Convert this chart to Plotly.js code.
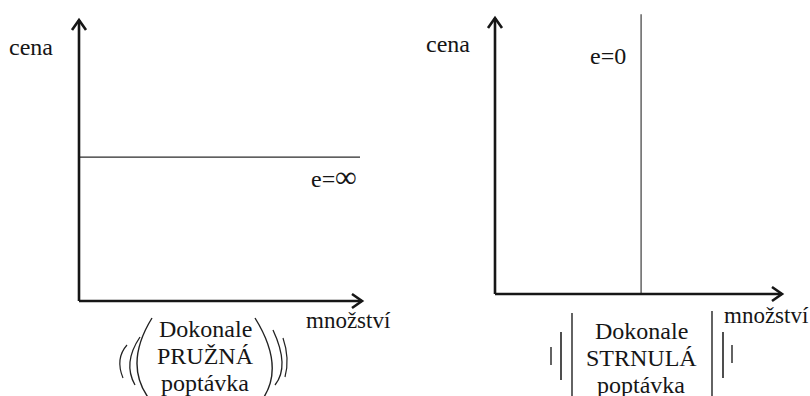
<!DOCTYPE html>
<html>
<head>
<meta charset="utf-8">
<script src="https://cdn.plot.ly/plotly-3.0.1.min.js"></script>
<style>html,body{margin:0;padding:0;background:#fff}</style>
</head>
<body>
<div id="chart" style="width:810px;height:396px"></div>
<script>
// ---- data ----
const axisLabelsY = ['cena', 'cena'];
const axisLabelsX = ['množství', 'množství'];
const elasticityLabels = ['e=∞', 'e=0'];
const captionElastic = ['Dokonale', 'PRUŽNÁ', 'poptávka'];
const captionInelastic = ['Dokonale', 'STRNULÁ', 'poptávka'];
// perfectly elastic demand: horizontal line
const qElastic = [0, 9.93];
const pElastic = [5.12, 5.12];
// perfectly inelastic demand: vertical line
const qInelastic = [5.09, 5.09];
const pInelastic = [0, 10.14];
const axisMax = 10;

// ---- layout helpers ----
const W = 810, H = 396;
function fit(p0, p10, lo, hi, isY) {
  const s = (p10 - p0) / 10;
  const r = [(lo - p0) / s, (hi - p0) / s];
  const d = isY ? [1 - lo / H, 1 - hi / H] : [lo / W, hi / W];
  return {domain: d, range: r, visible: false, fixedrange: true};
}
const px = (x, y) => ({x: x / W, y: 1 - y / H});
const SERIF = 'Liberation Serif';
const INK = '#161616';

const traces = [
  {x: qElastic, y: pElastic, xaxis: 'x', yaxis: 'y', mode: 'lines',
   line: {color: '#2a2a2a', width: 1.3}, hoverinfo: 'skip', showlegend: false},
  {x: qInelastic, y: pInelastic, xaxis: 'x2', yaxis: 'y2', mode: 'lines',
   line: {color: '#2a2a2a', width: 1.1}, hoverinfo: 'skip', showlegend: false}
];

const shapes = [];
[['x', 'y'], ['x2', 'y2']].forEach(([xr, yr]) => {
  shapes.push({type: 'line', xref: xr, yref: yr, x0: 0, y0: 0, x1: axisMax, y1: 0,
               line: {color: INK, width: 2.6}});
  shapes.push({type: 'line', xref: xr, yref: yr, x0: 0, y0: 0, x1: 0, y1: axisMax,
               line: {color: INK, width: 2.6}});
  shapes.push({type: 'path', xref: xr, yref: yr, xsizemode: 'pixel', ysizemode: 'pixel',
               xanchor: axisMax, yanchor: 0, path: 'M-10,7 L0,0 L-10,-7',
               line: {color: INK, width: 2.6}});
  shapes.push({type: 'path', xref: xr, yref: yr, xsizemode: 'pixel', ysizemode: 'pixel',
               xanchor: 0, yanchor: axisMax, path: 'M-7,-10 L0,0 L7,-10',
               line: {color: INK, width: 2.6}});
});

function curve(x0, y0, xm, ym, x1, y1, w) {
  const cx = 2 * xm - 0.5 * (x0 + x1), cy = 2 * ym - 0.5 * (y0 + y1);
  const a = px(x0, y0), c = px(cx, cy), b = px(x1, y1);
  shapes.push({type: 'path', xref: 'paper', yref: 'paper',
    path: `M${a.x},${a.y} Q${c.x},${c.y} ${b.x},${b.y}`,
    line: {color: '#222', width: w}});
}
function bar(x, y0, y1, w) {
  const a = px(x, y0), b = px(x, y1);
  shapes.push({type: 'line', xref: 'paper', yref: 'paper', x0: a.x, y0: a.y, x1: b.x, y1: b.y,
    line: {color: '#222', width: w}});
}
curve(152, 318, 137, 362, 150, 400, 1.4);
curve(140, 337, 130, 362, 135, 385, 1.3);
curve(127, 345, 120, 360, 123, 378, 1.2);
curve(255, 318, 272, 363, 262, 400, 1.4);
curve(273, 330, 282, 362, 275, 385, 1.3);
curve(283, 338, 287, 358, 285, 377, 1.2);
bar(572, 313, 397, 1.4);
bar(561, 332, 380, 1.6);
bar(551, 347, 365, 1.4);
bar(712, 311, 397, 1.4);
bar(723, 332, 378, 1.6);
bar(732, 345, 363, 1.4);

const ann = [];
function addText(t, x, y, size, xanchor) {
  const p = px(x, y);
  ann.push({text: t, x: p.x, y: p.y, xref: 'paper', yref: 'paper', showarrow: false,
    xanchor: xanchor || 'center', yanchor: 'middle',
    font: {family: SERIF, size: size}});
}
addText(axisLabelsY[0], 31, 47, 24);
addText(axisLabelsY[1], 448, 44, 24);
addText(axisLabelsX[0], 304, 320, 23, 'left');
addText(axisLabelsX[1], 722, 315, 23, 'left');
addText(elasticityLabels[0].replace('∞', '<b style="font-size:30px">∞</b>'), 359, 176, 24, 'right');
addText(elasticityLabels[1], 608, 56, 24);
const capYs = [329, 356, 383];
captionElastic.forEach((t, i) => addText(t, 205, capYs[i], 24));
captionInelastic.forEach((t, i) => addText(t, 641, capYs[i] + 2, 24));

const layout = {
  width: W, height: H,
  margin: {l: 0, r: 0, t: 0, b: 0},
  paper_bgcolor: '#fff', plot_bgcolor: 'rgba(0,0,0,0)',
  font: {family: SERIF, color: INK},
  showlegend: false,
  xaxis: fit(79, 362, 50, 400, false),
  yaxis: fit(301, 20, 312, 5, true),
  xaxis2: fit(495, 782, 470, 805, false),
  yaxis2: fit(294, 18, 305, 5, true),
  shapes: shapes,
  annotations: ann
};
layout.yaxis2.anchor = 'x2';
layout.xaxis2.anchor = 'y2';

function draw() {
  Plotly.newPlot('chart', traces, layout, {staticPlot: true, displayModeBar: false});
}
let drawn = false;
function drawOnce() { if (!drawn) { drawn = true; draw(); } }
if (document.fonts && document.fonts.load) {
  Promise.race([
    document.fonts.load('24px "Liberation Serif"', 'cena Dokonale PRUŽNÁ množství'),
    new Promise(r => setTimeout(r, 400))
  ]).then(drawOnce, drawOnce);
} else {
  drawOnce();
}
</script>
</body>
</html>
